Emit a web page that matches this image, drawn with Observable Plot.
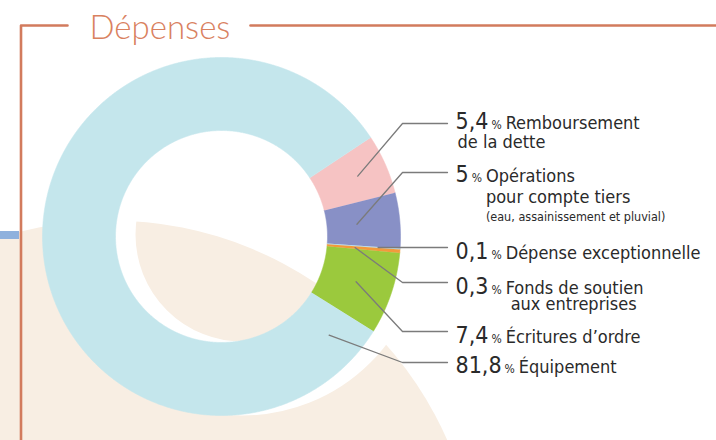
<!DOCTYPE html>
<html><head><meta charset="utf-8">
<script src="https://cdn.jsdelivr.net/npm/d3@7"></script>
<script src="https://cdn.jsdelivr.net/npm/@observablehq/plot@0.6"></script>
<style>
html,body{margin:0;padding:0;background:#fff;}
#chart svg{display:block;}
</style></head><body><div id="chart"></div>
<script>
// ---- DATA ----
const categories = ["Remboursement de la dette", "Opérations pour compte tiers", "Dépense exceptionnelle", "Fonds de soutien aux entreprises", "Écritures d’ordre", "Équipement"];
const values = [5.4, 5, 0.1, 0.3, 7.4, 81.8];
const valueLabels = ["5,4", "5", "0,1", "0,3", "7,4", "81,8"];
const labelMain = ["Remboursement", "Opérations", "Dépense exceptionnelle", "Fonds de soutien", "Écritures d’ordre", "Équipement"];
const labelExtra = [["de la dette"], ["pour compte tiers", "(eau, assainissement et pluvial)"], [], ["aux entreprises"], [], []];
const title = "Dépenses";

// ---- STYLE / LAYOUT ----
const colors = ["#f6c3c3", "#8890c6", "#b9dfe9", "#f29a3c", "#9bc93d", "#c4e6ec"];
const FONT = "'DejaVu Sans Condensed', 'DejaVu Sans', sans-serif";
const geo = {cx: 221, cy: 236, R: 179, r: 106, startDeg: 56.4, numX: 455, elbowX: 402, endX: 447};
const layout = [
  {base: 128, leadY: 123, leadR: 149, extraY: [147], extraAlign: ["num"], extraSize: [18]},
  {base: 181, leadY: 172, leadR: 136, extraY: [202, 220], extraAlign: ["text", "text"], extraSize: [18, 12.5]},
  {base: 258, leadY: 247, leadR: 157, extraY: [], extraAlign: [], extraSize: []},
  {base: 293, leadY: 282, leadR: 134, extraY: [309], extraAlign: ["text5"], extraSize: [18]},
  {base: 342, leadY: 331, leadR: 142, extraY: [], extraAlign: [], extraSize: []},
  {base: 372, leadY: 362, leadR: 146, leadDeg: 132.5, extraY: [], extraAlign: [], extraSize: []}
];
const NUM_SIZE = 23, PCT_SIZE = 12, TXT_SIZE = 18;

// ---- measure ----
const ctx = document.createElement("canvas").getContext("2d");
function tw(s, size) { ctx.font = `${size}px ${FONT}`; return ctx.measureText(s).width; }

// ---- slices ----
const rad = geo.startDeg * Math.PI / 180;
const arcs = d3.pie().sort(null).value(d => d).startAngle(rad).endAngle(rad + 2 * Math.PI)(values);
const sliceRows = [];
arcs.forEach((a, i) => {
  const n = Math.max(2, Math.ceil((a.endAngle - a.startAngle) / 0.004));
  for (let k = 0; k <= n; k++) {
    const t = a.startAngle + (a.endAngle - a.startAngle) * k / n;
    sliceRows.push({key: categories[i], color: colors[i], x: geo.cx + geo.R * Math.sin(t), y: geo.cy - geo.R * Math.cos(t)});
  }
  for (let k = n; k >= 0; k--) {
    const t = a.startAngle + (a.endAngle - a.startAngle) * k / n;
    sliceRows.push({key: categories[i], color: colors[i], x: geo.cx + geo.r * Math.sin(t), y: geo.cy - geo.r * Math.cos(t)});
  }
});

// ---- leaders ----
const leaderRows = [];
arcs.forEach((a, i) => {
  const L = layout[i];
  const ang = L.leadDeg != null ? L.leadDeg * Math.PI / 180 : (a.startAngle + a.endAngle) / 2;
  leaderRows.push({key: categories[i], x: geo.cx + L.leadR * Math.sin(ang), y: geo.cy - L.leadR * Math.cos(ang)});
  leaderRows.push({key: categories[i], x: geo.elbowX, y: L.leadY});
  leaderRows.push({key: categories[i], x: geo.endX, y: L.leadY});
});

// ---- labels ----
const numRows = [], pctRows = [], txtRows = [];
valueLabels.forEach((v, i) => {
  const L = layout[i];
  const nw = tw(v, NUM_SIZE);
  const px = geo.numX + nw + 3;
  const tx = px + tw("%", PCT_SIZE) + 4;
  numRows.push({x: geo.numX, y: L.base, t: v});
  pctRows.push({x: px, y: L.base, t: "%"});
  txtRows.push({x: tx, y: L.base, t: labelMain[i], size: TXT_SIZE});
  labelExtra[i].forEach((s, j) => {
    const al = L.extraAlign[j];
    const x = al === "num" ? geo.numX + 2 : al === "text5" ? tx + 5 : tx;
    txtRows.push({x, y: L.extraY[j], t: s, size: L.extraSize[j]});
  });
});

// ---- decoration ----
const frameLeft = [{x: 67, y: 25}, {x: 20.5, y: 25}, {x: 20.5, y: 440}];
const frameRight = [{x: 250, y: 25}, {x: 716, y: 25}];

const chart = Plot.plot({
  width: 716, height: 440, margin: 0,
  x: {domain: [0, 716], range: [0, 716], axis: null},
  y: {domain: [0, 440], range: [0, 440], axis: null},
  color: {type: "identity"},
  style: {background: "#fff", fontFamily: FONT},
  marks: [
    Plot.dot([{x: 110, y: 588}], {x: "x", y: "y", r: 368, fill: "#f8eee3", stroke: "none"}),
    Plot.dot([{x: 242, y: 234}], {x: "x", y: "y", r: 144, fill: "none", stroke: "#ffffff", strokeWidth: 74}),
    Plot.line(sliceRows, {x: "x", y: "y", z: "key", fill: "color", stroke: "color", strokeWidth: 0.6}),
    Plot.line(leaderRows, {x: "x", y: "y", z: "key", stroke: "#7b7b7b", strokeWidth: 1.3}),
    Plot.text(numRows, {x: "x", y: "y", text: "t", fontSize: NUM_SIZE, textAnchor: "start", lineAnchor: "bottom", fill: "#2a2a2a", fontFamily: FONT}),
    Plot.text(pctRows, {x: "x", y: "y", text: "t", fontSize: PCT_SIZE, textAnchor: "start", lineAnchor: "bottom", fill: "#2a2a2a", fontFamily: FONT}),
    Plot.text(txtRows, {x: "x", y: "y", text: "t", fontSize: d => d.size, textAnchor: "start", lineAnchor: "bottom", fill: "#2a2a2a", fontFamily: FONT}),
    Plot.rect([{x1: 0, x2: 19, y1: 231, y2: 239}], {x1: "x1", x2: "x2", y1: "y1", y2: "y2", fill: "#8fb1dd"}),
    Plot.line(frameLeft, {x: "x", y: "y", stroke: "#d27b5d", strokeWidth: 2.6}),
    Plot.line(frameRight, {x: "x", y: "y", stroke: "#d27b5d", strokeWidth: 2.6}),
    Plot.text([{x: 89, y: 38, t: title}], {x: "x", y: "y", text: "t", fontSize: 33, fontWeight: 300, textAnchor: "start", lineAnchor: "bottom", fill: "#d9815f", fontFamily: "Lato, 'Open Sans', sans-serif"})
  ]
});
document.getElementById("chart").appendChild(chart);
</script></body></html>
